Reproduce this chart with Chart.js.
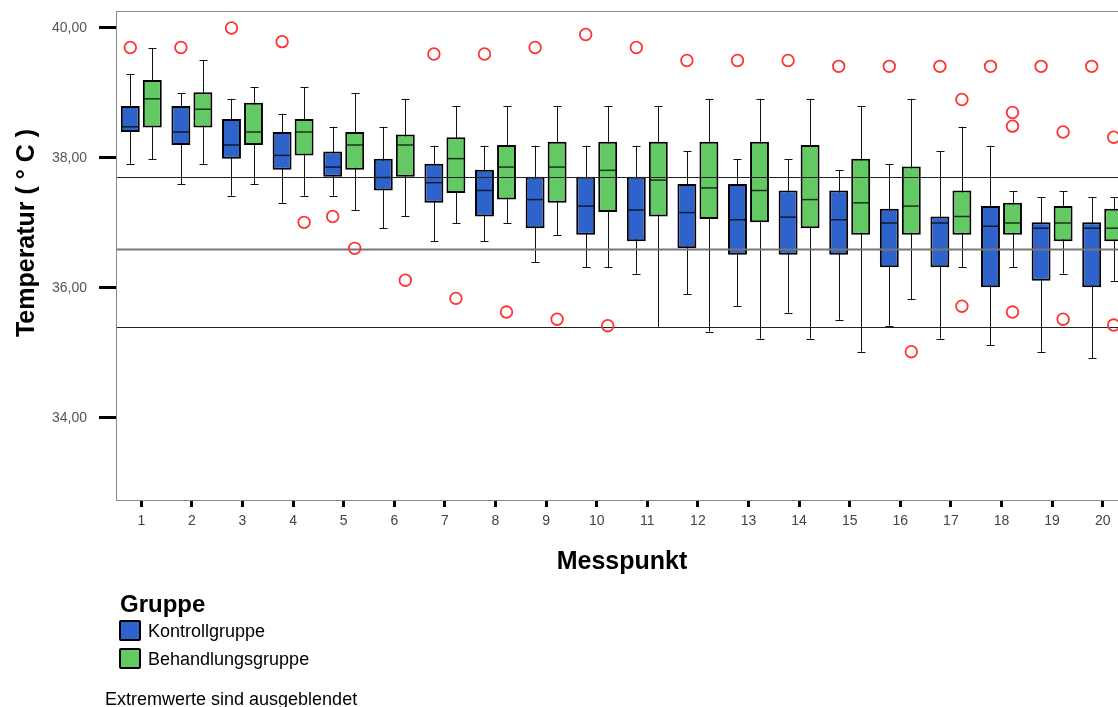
<!DOCTYPE html>
<html>
<head>
<meta charset="utf-8">
<script src="https://cdn.jsdelivr.net/npm/chart.js@4/dist/chart.umd.min.js"></script>
<style>
  html, body { margin: 0; padding: 0; background: #fff; overflow: hidden; }
  #wrap { position: relative; width: 1118px; height: 707px; overflow: hidden; font-family: "Liberation Sans", Arial, sans-serif; }
  #chart { position: absolute; left: 0; top: 0; }
  .legend-title { position: absolute; left: 120px; top: 592px; font-size: 24px; line-height: 24px; font-weight: bold; color: #000; }
  .legend-item { position: absolute; left: 119px; height: 21px; }
  .legend-box { position: absolute; left: 0; top: 0; width: 22px; height: 21px; box-sizing: border-box; border: 2px solid #000; border-radius: 2px; }
  .legend-text { position: absolute; left: 29px; top: 2px; font-size: 18px; line-height: 18px; white-space: nowrap; color: #000; }
  .note { position: absolute; left: 105px; top: 690px; font-size: 18px; line-height: 18px; white-space: nowrap; color: #000; }
</style>
</head>
<body>
<div id="wrap">
  <canvas id="chart" width="1140" height="707"></canvas>
  <div class="legend-title">Gruppe</div>
  <div id="legend"></div>
  <div class="note">Extremwerte sind ausgeblendet</div>
</div>
<script>
// Messpunkte 1..20
const messpunkte = ['1','2','3','4','5','6','7','8','9','10','11','12','13','14','15','16','17','18','19','20'];

// Kontrollgruppe: whiskers, quartiles, median, outliers
const kontrollMax    = [39.29, 39.0, 38.91, 38.68, 38.48, 38.48, 38.19, 38.19, 38.19, 38.19, 38.19, 38.1, 37.98, 37.98, 37.81, 37.91, 38.1, 38.19, 37.4, 37.4];
const kontrollQ3     = [38.8, 38.8, 38.6, 38.4, 38.1, 37.99, 37.91, 37.82, 37.71, 37.71, 37.71, 37.6, 37.6, 37.5, 37.5, 37.22, 37.1, 37.26, 37.01, 37.01];
const kontrollMedian = [38.48, 38.4, 38.2, 38.04, 37.86, 37.7, 37.62, 37.5, 37.36, 37.26, 37.2, 37.16, 37.05, 37.09, 37.05, 37.0, 37.0, 36.95, 36.92, 36.92];
const kontrollQ1     = [38.4, 38.2, 37.99, 37.82, 37.71, 37.5, 37.31, 37.1, 36.92, 36.82, 36.72, 36.61, 36.51, 36.51, 36.51, 36.32, 36.32, 36.01, 36.11, 36.01];
const kontrollMin    = [37.91, 37.6, 37.42, 37.31, 37.42, 36.92, 36.72, 36.72, 36.4, 36.32, 36.22, 35.9, 35.72, 35.62, 35.51, 35.42, 35.22, 35.12, 35.02, 34.92];
const kontrollOutliers = [[39.7], [39.7], [40.0], [39.79], [37.1], [], [39.6], [39.6], [39.7], [39.9], [39.7], [39.5], [39.5], [39.5], [39.41], [39.41], [39.41], [39.41], [39.41], [39.41]];

// Behandlungsgruppe
const behandlungMax    = [39.69, 39.5, 39.09, 39.09, 39.0, 38.91, 38.8, 38.8, 38.8, 38.8, 38.8, 38.91, 38.91, 38.91, 38.8, 38.91, 38.48, 37.49, 37.49, 37.4];
const behandlungQ3     = [39.2, 39.01, 38.85, 38.6, 38.4, 38.36, 38.32, 38.2, 38.25, 38.25, 38.25, 38.25, 38.25, 38.2, 37.99, 37.87, 37.5, 37.31, 37.26, 37.22];
const behandlungMedian = [38.91, 38.75, 38.4, 38.4, 38.2, 38.2, 37.99, 37.86, 37.86, 37.81, 37.66, 37.54, 37.5, 37.36, 37.31, 37.26, 37.1, 37.0, 37.0, 36.92];
const behandlungQ1     = [38.47, 38.47, 38.2, 38.04, 37.82, 37.71, 37.46, 37.36, 37.31, 37.17, 37.1, 37.06, 37.01, 36.92, 36.82, 36.82, 36.82, 36.82, 36.72, 36.72];
const behandlungMin    = [37.98, 37.91, 37.6, 37.42, 37.2, 37.1, 37.0, 37.0, 36.81, 36.32, 35.4, 35.33, 35.22, 35.22, 35.02, 35.83, 36.32, 36.32, 36.22, 36.11];
const behandlungOutliers = [[], [], [], [37.01], [36.61], [36.12], [35.84], [35.63], [35.52], [35.42], [], [], [], [], [], [35.02], [38.9, 35.72], [38.7, 38.49, 35.63], [38.4, 35.52], [38.32, 35.43]];

// horizontal reference lines and axis ticks
const referenzLinien = [37.7, 36.6, 35.4];
const yTicks = [34, 36, 38, 40];

const fontFamily = "'Liberation Sans', Arial, sans-serif";

// whiskers go under the boxes, medians/lines/outliers on top
const boxplotPlugin = {
    id: 'boxplot',
    beforeDatasetsDraw(chart) {
        const ctx = chart.ctx;
        const y = chart.scales.y;
        ctx.save();
        ctx.strokeStyle = '#111';
        ctx.lineWidth = 1;
        chart.data.datasets.forEach((ds, d) => {
            chart.getDatasetMeta(d).data.forEach((bar, i) => {
                const x = Math.round(bar.x) + 0.5;
                const cap = 4;
                const top = y.getPixelForValue(ds.whiskerHigh[i]);
                const bottom = y.getPixelForValue(ds.whiskerLow[i]);
                ctx.beginPath();
                ctx.moveTo(x, top);
                ctx.lineTo(x, bottom);
                ctx.moveTo(x - cap, Math.round(top) + 0.5);
                ctx.lineTo(x + cap, Math.round(top) + 0.5);
                ctx.moveTo(x - cap, Math.round(bottom) + 0.5);
                ctx.lineTo(x + cap, Math.round(bottom) + 0.5);
                ctx.stroke();
            });
        });
        ctx.restore();
    },
    afterDatasetsDraw(chart) {
        const ctx = chart.ctx;
        const y = chart.scales.y;
        const area = chart.chartArea;
        ctx.save();

        // medians
        ctx.strokeStyle = 'rgba(0,0,0,0.75)';
        ctx.lineWidth = 1.5;
        chart.data.datasets.forEach((ds, d) => {
            chart.getDatasetMeta(d).data.forEach((bar, i) => {
                const my = y.getPixelForValue(ds.medians[i]);
                ctx.beginPath();
                ctx.moveTo(bar.x - bar.width / 2 + 1, my);
                ctx.lineTo(bar.x + bar.width / 2 - 1, my);
                ctx.stroke();
            });
        });

        // reference lines
        referenzLinien.forEach((v, k) => {
            const ly = Math.round(y.getPixelForValue(v)) + 0.5;
            ctx.strokeStyle = k === 1 ? '#777' : '#222';
            ctx.lineWidth = k === 1 ? 2 : 1;
            ctx.beginPath();
            ctx.moveTo(area.left, ly);
            ctx.lineTo(area.right, ly);
            ctx.stroke();
        });

        // outliers
        ctx.strokeStyle = '#ff3333';
        ctx.lineWidth = 1.8;
        chart.data.datasets.forEach((ds, d) => {
            chart.getDatasetMeta(d).data.forEach((bar, i) => {
                ds.outliers[i].forEach(v => {
                    ctx.beginPath();
                    ctx.arc(bar.x, y.getPixelForValue(v), 5.8, 0, Math.PI * 2);
                    ctx.stroke();
                });
            });
        });

        // frame around plot area
        ctx.strokeStyle = '#888';
        ctx.lineWidth = 1;
        ctx.strokeRect(area.left + 0.5, area.top + 0.5, area.right - area.left, area.bottom - area.top);
        ctx.restore();
    },
    afterDraw(chart) {
        // rotated y axis title
        const ctx = chart.ctx;
        ctx.save();
        ctx.translate(34, 233);
        ctx.rotate(-Math.PI / 2);
        ctx.font = 'bold 25px ' + fontFamily;
        ctx.fillStyle = '#000';
        ctx.textAlign = 'center';
        ctx.textBaseline = 'alphabetic';
        ctx.fillText('Temperatur ( ° C )', 0, 0);
        ctx.restore();
    }
};

// legend built from the datasets
function buildLegend(chart) {
    const box = document.getElementById('legend');
    box.innerHTML = '';
    chart.data.datasets.forEach((ds, i) => {
        const item = document.createElement('div');
        item.className = 'legend-item';
        item.style.top = (620 + i * 28) + 'px';
        const sw = document.createElement('div');
        sw.className = 'legend-box';
        sw.style.background = ds.backgroundColor;
        const txt = document.createElement('div');
        txt.className = 'legend-text';
        txt.innerText = ds.label;
        item.appendChild(sw);
        item.appendChild(txt);
        box.appendChild(item);
    });
}

let ctx = document.getElementById('chart').getContext('2d');
let chart = new Chart(ctx, {
    type: 'bar',
    data: {
        labels: messpunkte,
        datasets: [{
            label: 'Kontrollgruppe',
            data: kontrollQ1.map((q, i) => [q, kontrollQ3[i]]),
            whiskerLow: kontrollMin,
            whiskerHigh: kontrollMax,
            medians: kontrollMedian,
            outliers: kontrollOutliers,
            backgroundColor: '#2f63cc',
            borderColor: '#000',
            borderWidth: 2,
            borderSkipped: false
        }, {
            label: 'Behandlungsgruppe',
            data: behandlungQ1.map((q, i) => [q, behandlungQ3[i]]),
            whiskerLow: behandlungMin,
            whiskerHigh: behandlungMax,
            medians: behandlungMedian,
            outliers: behandlungOutliers,
            backgroundColor: '#63c963',
            borderColor: '#000',
            borderWidth: 2,
            borderSkipped: false
        }]
    },
    options: {
        responsive: false,
        animation: false,
        devicePixelRatio: 1,
        categoryPercentage: 0.87,
        barPercentage: 0.86,
        layout: { padding: { left: 0, top: 11, right: 12, bottom: 130 } },
        plugins: {
            legend: { display: false },
            tooltip: { enabled: false }
        },
        scales: {
            x: {
                offset: true,
                grid: { drawOnChartArea: false, drawTicks: true, offset: false, tickLength: 7, tickWidth: 3, tickColor: '#000' },
                border: { display: true, color: '#888', width: 1 },
                ticks: { color: '#444', padding: 6, maxRotation: 0, autoSkip: false, font: { family: fontFamily, size: 14 } },
                title: { display: true, text: 'Messpunkt', color: '#000', padding: { top: 0, bottom: 0 }, font: { family: fontFamily, size: 25, weight: 'bold' } },
                afterFit(scale) {
                    scale.height = 77;
                    scale.paddingLeft = 0;
                    scale.paddingRight = 0;
                }
            },
            y: {
                min: 32.738,
                max: 40.2615,
                grid: { drawOnChartArea: false, drawTicks: true, tickLength: 17, tickWidth: 3, tickColor: '#000' },
                border: { display: true, color: '#888', width: 1 },
                ticks: {
                    color: '#555',
                    padding: 12,
                    font: { family: fontFamily, size: 14 },
                    callback: v => v.toFixed(2).replace('.', ',')
                },
                afterBuildTicks(scale) { scale.ticks = yTicks.map(v => ({ value: v })); },
                afterFit(scale) {
                    scale.width = 116;
                    scale.paddingTop = 0;
                    scale.paddingBottom = 0;
                }
            }
        }
    },
    plugins: [boxplotPlugin]
});

buildLegend(chart);
</script>
</body>
</html>
